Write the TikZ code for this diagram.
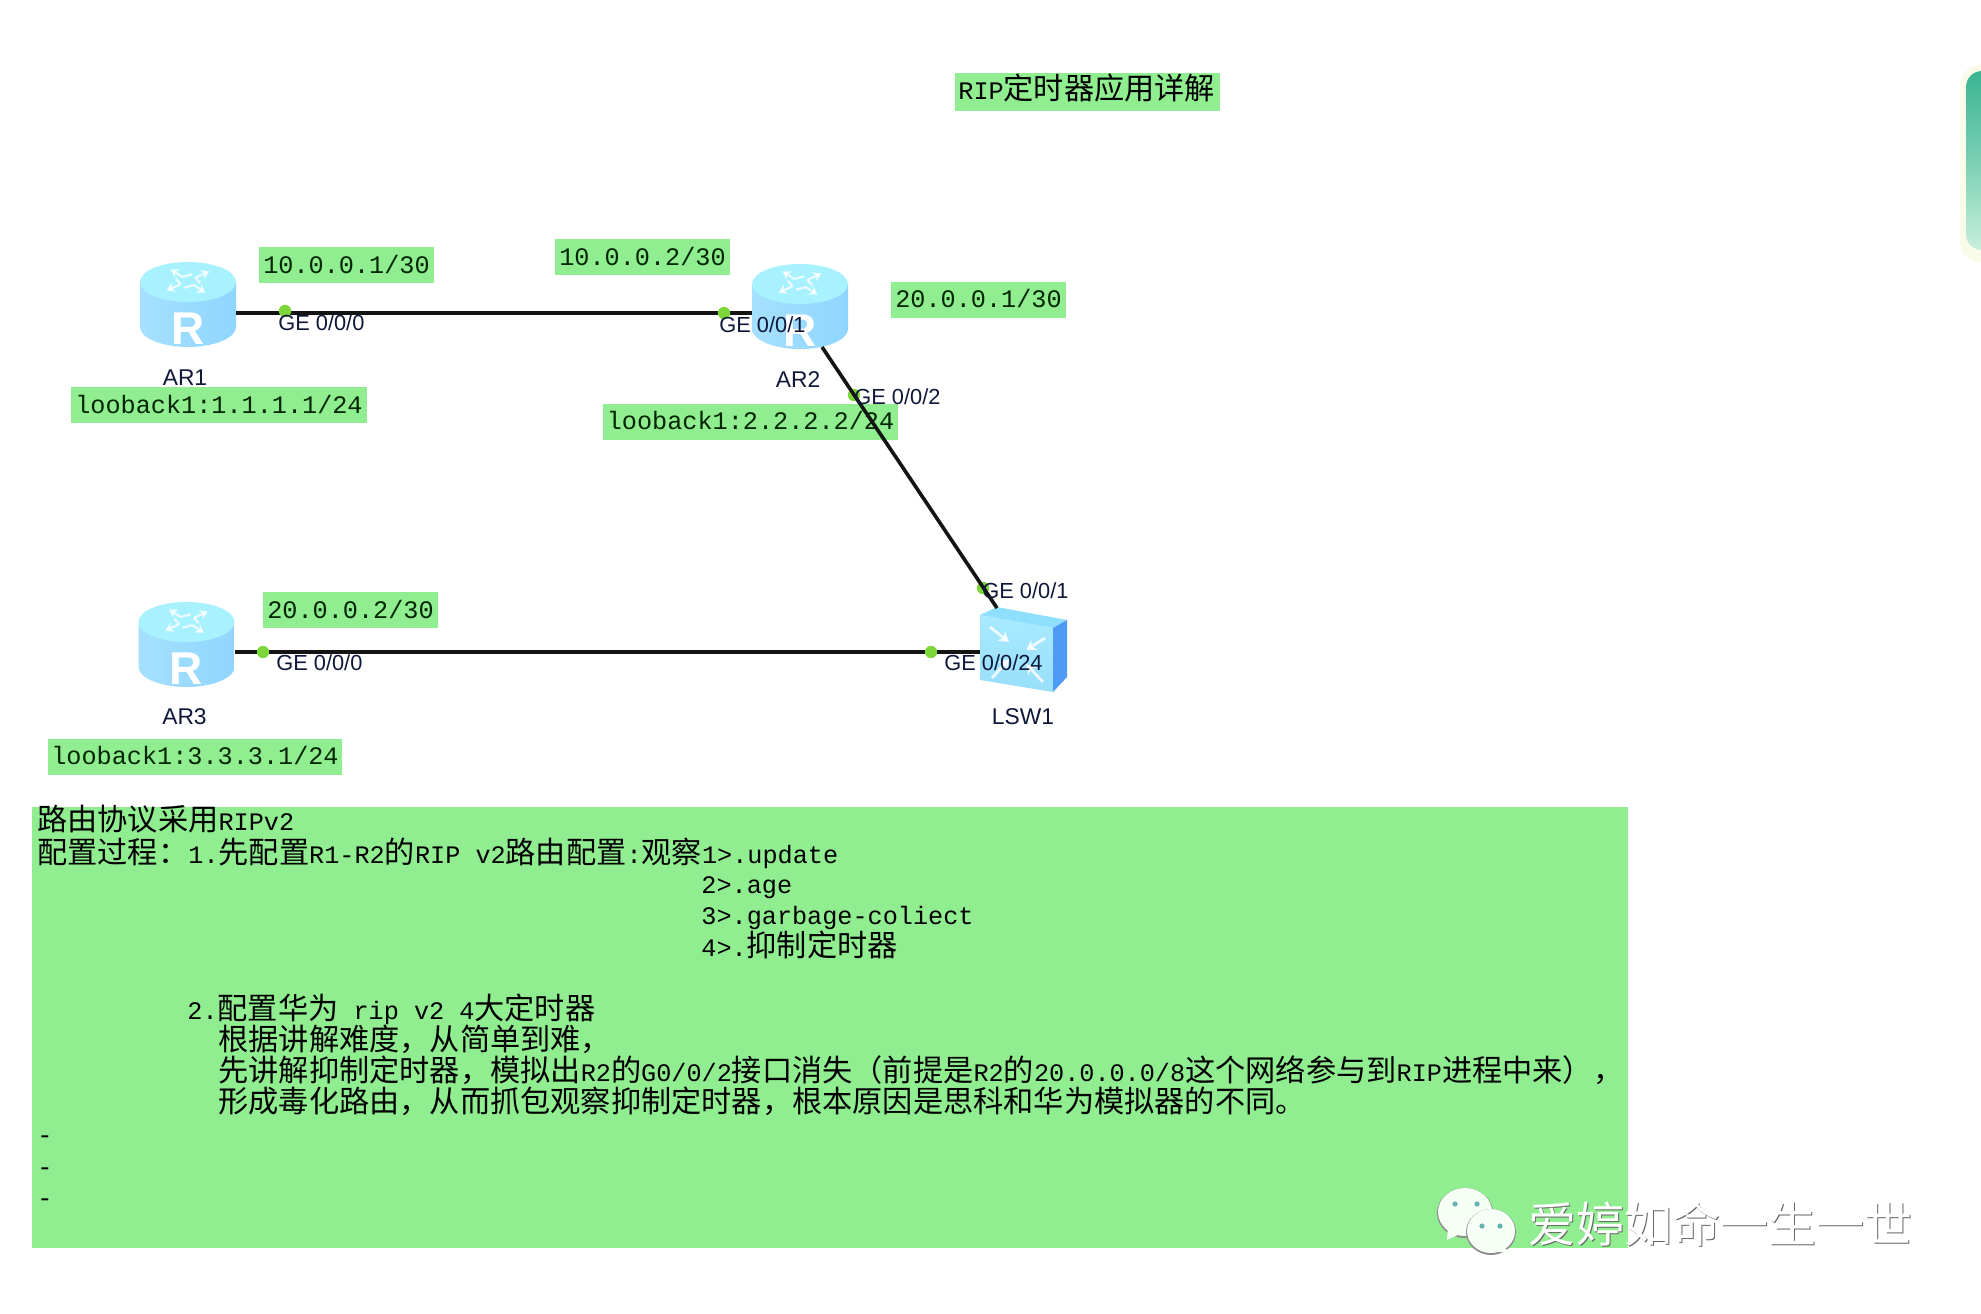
\documentclass[tikz,border=0pt]{standalone}
\usepackage{fontspec}
\usetikzlibrary{arrows.meta}
\setmainfont{Liberation Sans}
\newfontfamily\monof{Liberation Mono}
\newfontfamily\zhfont{Noto Sans CJK SC}
\newcommand\zh[1]{{\fontsize{15.1}{15}\zhfont #1}}
\definecolor{lg}{HTML}{90EE90}
\definecolor{ink}{HTML}{10183A}
\definecolor{dotc}{HTML}{7FD63A}
\definecolor{rleft}{HTML}{A6E0FF}
\definecolor{rmid}{HTML}{78C8FF}
\definecolor{rright}{HTML}{8FD6FF}
\definecolor{rtop}{HTML}{A8F2FF}
\definecolor{swa}{HTML}{A8EAFF}
\definecolor{swb}{HTML}{98DFFB}
\definecolor{swside}{HTML}{4F9AF5}
\definecolor{swtop}{HTML}{8FE0FF}
\definecolor{stripa}{HTML}{3BB592}
\definecolor{stripb}{HTML}{C8EFDC}
\definecolor{stripe}{HTML}{FBFBEA}
\tikzset{
  x=0.5pt,y=-0.5pt,
  tagbox/.style={fill=lg,inner sep=0pt,anchor=center,font=\monof\fontsize{12.6}{15}\selectfont,text=black!85!green},
  bodyline/.style={anchor=base west,inner sep=0pt,font=\monof\fontsize{12.6}{15}\selectfont,text=black},
  portlabel/.style={inner sep=0pt,font=\fontsize{10.9}{12}\selectfont,text=ink},
  devlabel/.style={inner sep=0pt,font=\fontsize{11.4}{13}\selectfont,text=ink},
  link/.style={line width=1.8pt,draw=black!92},
  portdot/.style={circle,fill=dotc,draw=none,minimum size=6.2pt,inner sep=0pt},
  device/.style={inner sep=0pt,minimum width=48pt,minimum height=42pt},
  routerpic/.pic={
    \shade[left color=rleft,middle color=rmid,right color=rright]
      (-48,-23) -- (-48,22) .. controls (-48,33) and (-26,42) .. (0,42)
      .. controls (26,42) and (48,33) .. (48,22) -- (48,-23) -- cycle;
    \fill[rtop] (0,-23) ellipse [x radius=48,y radius=20];
    \begin{scope}[shift={(0,-24)},yscale=.55]
      \foreach \a in {20,110,200,290}{
        \begin{scope}[rotate=\a]
          \draw[white,opacity=.75,line width=1.1pt,-{Stealth[length=4pt,width=5pt]}] (9,-3) -- (26,-9);
          \draw[white,opacity=.75,line width=1.1pt] (9,-3) -- (10,8);
        \end{scope}}
    \end{scope}
    \node[inner sep=0pt,text=white,font=\bfseries\fontsize{23}{24}\selectfont] at (0,24) {R};
  }
}
\begin{document}
\begin{tikzpicture}
\useasboundingbox (0,0) rectangle (1981,1313);
\fill[white] (0,0) rectangle (1981,1313);
% strip at the right edge
\begin{scope}
  \clip (0,0) rectangle (1981,1313);
  \fill[stripe,rounded corners=10pt] (1960,65) rectangle (2040,262);
  \shade[top color=stripa,bottom color=stripb,middle color=stripa!55!stripb,rounded corners=8pt] (1966,71) rectangle (2040,250);
\end{scope}
% title
\node[tagbox,minimum width=132.5pt,minimum height=19pt] (title) at (1087.5,92) {};
\node[bodyline] (titletext) at (958,99) {RIP\zh{定时器应用详解}};
% label boxes
\node[tagbox,minimum width=87.5pt,minimum height=18pt] (ip1) at (346.5,265) {\raisebox{1pt}{10.0.0.1/30}};
\node[tagbox,minimum width=87.5pt,minimum height=18pt] (ip2) at (642.5,257) {\raisebox{1pt}{10.0.0.2/30}};
\node[tagbox,minimum width=87.5pt,minimum height=18pt] (ip3) at (978.5,299.5) {\raisebox{1pt}{20.0.0.1/30}};
\node[tagbox,minimum width=87.5pt,minimum height=18pt] (ip4) at (350.5,610) {\raisebox{1pt}{20.0.0.2/30}};
\node[tagbox,minimum width=148pt,minimum height=18pt] (lo1) at (219,405) {\raisebox{1pt}{looback1:1.1.1.1/24}\hspace{1.5pt}};
\node[tagbox,minimum width=147.5pt,minimum height=18pt] (lo2) at (750.5,421.5) {\raisebox{1.5pt}{looback1:2.2.2.2/24}\hspace{1.5pt}};
\node[tagbox,minimum width=147pt,minimum height=18pt] (lo3) at (195,756.5) {\raisebox{1pt}{looback1:3.3.3.1/24}\hspace{1.5pt}};
% devices
\node[device] (ar1) at (188,305) {};
\node[device] (ar2) at (800,307) {};
\node[device] (ar3) at (186.5,645) {};
\node[device,minimum width=43.5pt,minimum height=43pt] (lsw) at (1023.5,650) {};
\pic at (ar1) {routerpic};
\pic at (ar2) {routerpic};
\pic at (ar3) {routerpic};
% switch
\shade[top color=swa,bottom color=swb] (980,615) -- (1053,628) -- (1053,692) -- (980,680) -- cycle;
\fill[swtop] (980,615) -- (997,607) -- (1067,620) -- (1053,628) -- cycle;
\fill[swside] (1053,628) -- (1067,620) -- (1067,677) -- (1053,692) -- cycle;
\foreach \sx/\sy/\ex/\ey in {990/627/1009/642, 1045/638/1026/650, 992/678/1009/659, 1043/682/1026/664}{
  \draw[white,opacity=.8,line width=1.4pt,-{Stealth[length=5pt,width=6pt]}] (\sx,\sy) -- (\ex,\ey);}
% ports and connectors
\coordinate (ar1p) at (236,313);
\coordinate (ar2p) at (752,313);
\coordinate (ar2q) at (822,347);
\coordinate (lswp) at (997,608);
\coordinate (ar3p) at (235,652);
\coordinate (lswq) at (980,652);
\node[portdot] (d3) at (854,395) {};
\node[portdot] (d4) at (983,588) {};
\draw[link] (ar1p) -- (ar2p);
\draw[link] (ar2q) -- (lswp);
\draw[link] (ar3p) -- (lswq);
\node[portdot] (d1) at (285,311) {};
\node[portdot] (d2) at (724,313) {};
\node[portdot] (d5) at (263,652) {};
\node[portdot] (d6) at (931,652) {};
% labels
\node[portlabel,anchor=west] (g1) at (278,323) {GE 0/0/0};
\node[portlabel,anchor=west] (g2) at (719,325) {GE 0/0/1};
\node[portlabel,anchor=west] (g3) at (854,397) {GE 0/0/2};
\node[portlabel,anchor=west] (g4) at (982,591) {GE 0/0/1};
\node[portlabel,anchor=west] (g5) at (276,663) {GE 0/0/0};
\node[portlabel,anchor=west] (g6) at (944,663) {GE 0/0/24};
\node[devlabel] (n1) at (185,378) {AR1};
\node[devlabel] (n2) at (798,380) {AR2};
\node[devlabel] (n3) at (184.5,717) {AR3};
\node[devlabel] (n4) at (1023,717) {LSW1};
% big text panel
\node[fill=lg,inner sep=0pt,minimum width=798pt,minimum height=220.5pt,anchor=north west] (panel) at (32,807) {};
\node[bodyline] (t1) at (37,830) {\zh{路由协议采用}RIPv2};
\node[bodyline] (t2) at (37,863) {\zh{配置过程：}1.\zh{先配置}R1-R2\zh{的}RIP v2\zh{路由配置}:\zh{观察}1>.update};
\node[bodyline] (t3) at (701,893) {2>.age};
\node[bodyline] (t4) at (701,924) {3>.garbage-coliect};
\node[bodyline] (t5) at (701,956) {4>.\zh{抑制定时器}};
\node[bodyline] (t6) at (187,1019) {2.\zh{配置华为} rip v2 4\zh{大定时器}};
\node[bodyline] (t7) at (218,1050) {\zh{根据讲解难度，从简单到难，}};
\node[bodyline] (t8) at (218,1081) {\zh{先讲解抑制定时器，模拟出}R2\zh{的}G0/0/2\zh{接口消失（前提是}R2\zh{的}20.0.0.0/8\zh{这个网络参与到}RIP\zh{进程中来），}};
\node[bodyline] (t9) at (218,1112) {\zh{形成毒化路由，从而抓包观察抑制定时器，根本原因是思科和华为模拟器的不同。}};
\node[bodyline] (t10) at (37,1143) {-};
\node[bodyline] (t11) at (37,1175) {-};
\node[bodyline] (t12) at (37,1206) {-};
% watermark
\fill[black!45] (1465,1213) ellipse [x radius=28,y radius=25];
\fill[green!4!white] (1465,1212) ellipse [x radius=27,y radius=24];
\fill[green!4!white] (1448,1226) -- (1447,1240) -- (1466,1231) -- cycle;
\fill[black!45] (1491,1232) ellipse [x radius=25,y radius=23];
\fill[green!4!white] (1491,1231) ellipse [x radius=24,y radius=22];
\fill[green!4!white] (1503,1245) -- (1510,1254) -- (1491,1250) -- cycle;
\foreach \ex/\ey in {1455/1204,1477/1204,1482/1226,1500/1226}{\fill[teal!60!white] (\ex,\ey) circle [radius=2.6];}
\node[inner sep=0pt,text=black!60,font=\zhfont\fontsize{24}{26}\selectfont] (wm0) at (1721,1225) {爱婷如命一生一世};
\node[inner sep=0pt,text=white,font=\zhfont\fontsize{24}{26}\selectfont] (wm) at (1720,1224) {爱婷如命一生一世};
\end{tikzpicture}
\end{document}
